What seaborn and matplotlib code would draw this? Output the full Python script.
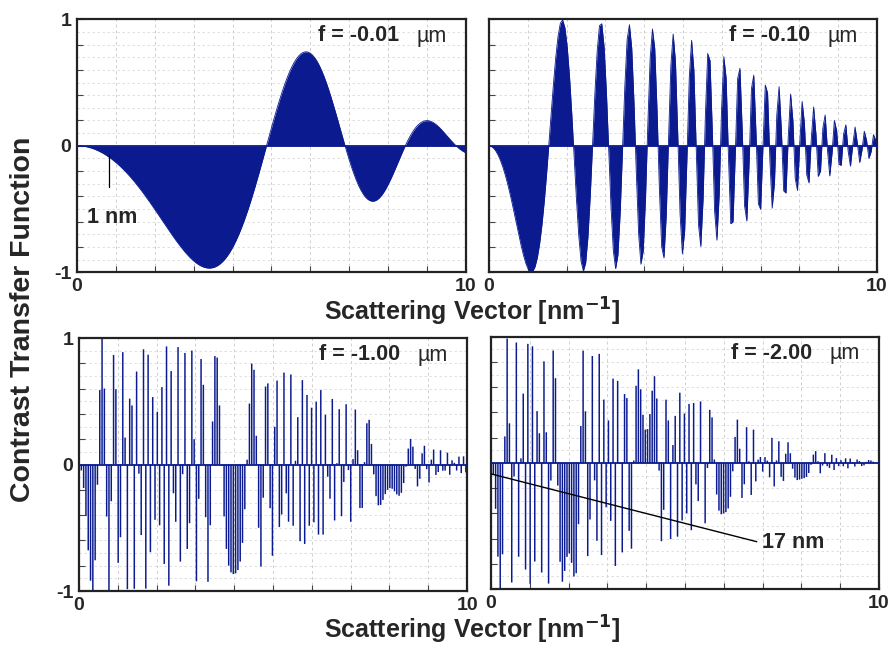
import numpy as np
import pandas as pd
import matplotlib
matplotlib.use("Agg")
import matplotlib.pyplot as plt
import seaborn as sns

# panel settings
defocus_um = [-0.01, -0.10, -1.00, -2.00]
panel_labels = ["f = -0.01", "f = -0.10", "f = -1.00", "f = -2.00"]
# phase coefficient from the zero crossings (first zero of f=-0.01 at q=4.87)
phase_per_um = 13.23
# damping read from the lobe heights (0.74 at 5.96, -0.42 at 7.7, 0.19 at 9.1)
damp_q4 = 0.00024
damp_defocus = 0.0042
# the original curves were drawn as coarse impulses (aliasing lobe at q=6 for f=-2)
q_max = 10.0
q_step = 0.059337

x_ticklabels = {0: "0", 10: "10"}
y_ticklabels = {-1: "-1", 0: "0", 1: "1"}

blue = "#0b1b8f"
# solid fill for the slow panels, thin impulses for the fast ones
bar_fill = [None, None, 0.65, 0.65]

sns.set_theme(style="white")
plt.rcParams["font.family"] = ["Liberation Sans", "DejaVu Sans"]

q = np.arange(0, q_max + q_step, q_step)
frames = []
for f, lab in zip(defocus_um, panel_labels):
    env = np.exp(-damp_q4 * q ** 4 - damp_defocus * (f * q) ** 2)
    ctf = np.sin(phase_per_um * f * q ** 2) * env
    frames.append(pd.DataFrame({"q": q, "ctf": ctf, "panel": lab}))
df = pd.concat(frames, ignore_index=True)

fig = plt.figure(figsize=(8.9, 6.45), dpi=100)
boxes = [
    [0.0865, 0.578, 0.437, 0.392],
    [0.5494, 0.578, 0.436, 0.392],
    [0.0888, 0.0837, 0.436, 0.392],
    [0.5517, 0.0868, 0.436, 0.391],
]

axes = []
for i, lab in enumerate(panel_labels):
    ax = fig.add_axes(boxes[i])
    d = df[df["panel"] == lab]
    if bar_fill[i] is None:
        ax.fill_between(d["q"], d["ctf"], 0, color=blue, lw=0, zorder=2)
        sns.lineplot(data=d, x="q", y="ctf", ax=ax, color=blue, lw=0.6, zorder=3)
    else:
        ax.bar(d["q"], d["ctf"], width=q_step * bar_fill[i], color=blue, lw=0,
               snap=False, zorder=2)
    sns.lineplot(x=[0, q_max], y=[0, 0], ax=ax, color=blue, lw=1.3, zorder=3)

    ax.set_xlim(0, 10)
    ax.set_ylim(-1, 1)
    ax.set_xticks(np.arange(0, 11, 1))
    ax.set_yticks(np.round(np.arange(-1, 1.01, 0.2), 1))
    ax.set_yticks(np.round(np.arange(-1, 1.01, 0.1), 1), minor=True)
    ax.set_xticklabels([x_ticklabels.get(int(t), "") for t in ax.get_xticks()],
                       fontsize=14, fontweight="bold")
    if i in (0, 2):
        labs = []
        for t in ax.get_yticks():
            labs.append(y_ticklabels.get(int(round(t)), "") if abs(t - round(t)) < 1e-6 else "")
        ax.set_yticklabels(labs, fontsize=14, fontweight="bold")
    else:
        ax.set_yticklabels([])
    ax.tick_params(axis="both", which="major", direction="in", length=4, width=0.8,
                   color="#444444", pad=4, left=True, bottom=True)
    ax.tick_params(axis="x", pad=4)
    ax.tick_params(axis="y", which="minor", length=0)
    ax.grid(True, which="major", axis="x", color="#cfcfcf", ls=(0, (3, 3)), lw=0.7)
    ax.grid(True, which="both", axis="y", color="#dadada", ls=(0, (3, 3)), lw=0.6)
    ax.set_axisbelow(True)
    for s in ax.spines.values():
        s.set_color("#222222")
        s.set_linewidth(1.6)
    ax.set_xlabel("")
    ax.set_ylabel("")

    ax.text(0.828, 0.935, lab, transform=ax.transAxes, ha="right", va="center",
            fontsize=15.5, fontweight="bold", zorder=5)
    ax.text(0.872, 0.932, "\u00b5m", transform=ax.transAxes, ha="left", va="center",
            fontsize=15.5, zorder=5)
    axes.append(ax)

# annotations
axes[0].plot([0.82, 0.82], [-0.07, -0.33], color="black", lw=0.9, zorder=4)
axes[0].text(0.25, -0.565, "1 nm", ha="left", va="center", fontsize=15.5, fontweight="bold")
axes[3].plot([0.0, 6.85], [-0.087, -0.625], color="black", lw=1.0, zorder=4)
axes[3].text(6.98, -0.635, "17 nm", ha="left", va="center", fontsize=15.5, fontweight="bold")

fig.text(0.531, 0.516, "Scattering Vector [nm$^{\\mathbf{-1}}$]", ha="center", va="center",
         fontsize=18, fontweight="bold")
fig.text(0.531, 0.024, "Scattering Vector [nm$^{\\mathbf{-1}}$]", ha="center", va="center",
         fontsize=18, fontweight="bold")
fig.text(0.026, 0.505, "Contrast Transfer Function", rotation=90, ha="center", va="center",
         fontsize=20.5, fontweight="bold")

fig.savefig("out.png", dpi=100)
